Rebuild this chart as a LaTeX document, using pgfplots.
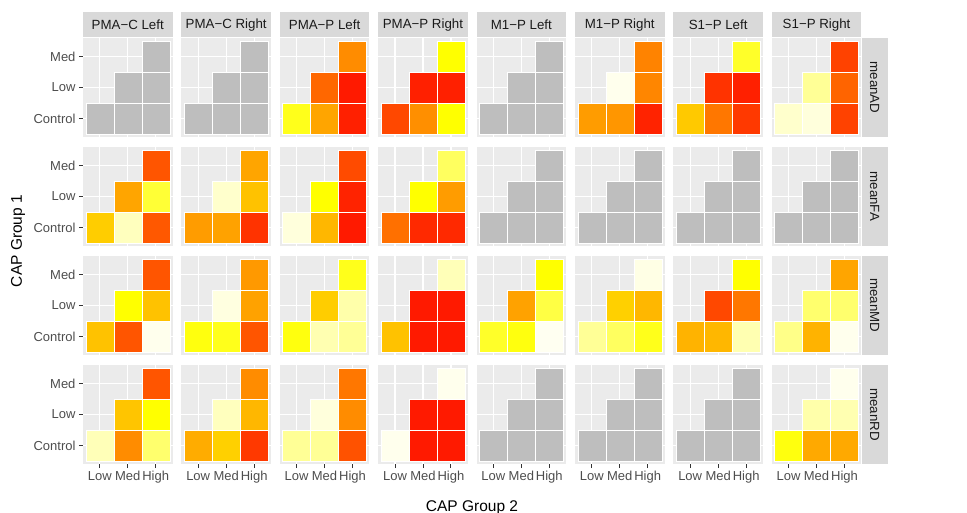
\documentclass[border=0pt]{standalone}
\usepackage{fontspec}
\setmainfont{Liberation Sans}
\usepackage{pgfplots}
\pgfplotsset{compat=1.18}

\definecolor{panelbg}{HTML}{EBEBEB}
\definecolor{stripbg}{HTML}{D9D9D9}
\definecolor{nagray}{HTML}{BEBEBE}
\definecolor{tickc}{HTML}{333333}
\definecolor{ticklab}{HTML}{4D4D4D}
\definecolor{striptext}{HTML}{1A1A1A}

\newcommand\tickfont{\fontsize{13}{15}\selectfont}
\newcommand\stripfont{\fontsize{13.3}{15}\selectfont}
\newcommand\titlefont{\fontsize{15.5}{18}\selectfont}

% one tile = one category cell (27.97pt x 30.94pt at this axis size)
\pgfdeclareplotmark{tile}{%
  \pgfpathrectangle{\pgfpoint{-13.98pt}{-15.47pt}}{\pgfpoint{27.97pt}{30.94pt}}%
  \pgfusepathqfillstroke}

\pgfplotsset{
  colormap={heat}{rgb255(0cm)=(255,26,0) rgb255(4.5cm)=(255,165,0)
    rgb255(7cm)=(255,255,0) rgb255(8cm)=(255,255,136)
    rgb255(9cm)=(255,255,204) rgb255(10cm)=(255,255,245)},
  panel/.style 2 args={
    at={(83pt+#1*98.4pt,-38pt-#2*109pt)}, anchor=north west,
    scale only axis, width=89.5pt, height=99pt,
    xmin=0.4, xmax=3.6, ymin=0.4, ymax=3.6,
    xtick={1,2,3}, ytick={1,2,3},
    xticklabels={}, yticklabels={},
    xtick pos=lower, ytick pos=left,
    xmajorticks=false, ymajorticks=false,
    tick align=outside, major tick length=4pt,
    tick style={draw=tickc, line width=0.9pt},
    axis line style={draw=none},
    axis background/.style={fill=panelbg},
    grid=major, major grid style={white, line width=1.2pt},
    ticklabel style={font=\tickfont, text=ticklab},
    xticklabel style={inner xsep=0.5pt},
    colormap name=heat, point meta min=0, point meta max=1,
    every axis title/.style={fill=stripbg, text=striptext, font=\stripfont,
      minimum width=89.5pt, minimum height=25pt, inner sep=0pt,
      anchor=south, at={(0.5,1)}, yshift=0.5pt},
  },
  left col/.style={ymajorticks=true, yticklabels={Control,Low,Med}},
  bottom row/.style={xmajorticks=true, xticklabels={Low,Med,High}},
  strip top/.style={title={#1}},
  strip right/.style={extra description/.code={
    \node[fill=stripbg, text=striptext, font=\stripfont, rotate=-90,
      anchor=south, minimum width=99pt, minimum height=26pt, inner sep=0pt]
      at (1,0.5) {#1};}},
  heat tiles/.style={scatter, only marks, mark=tile, line width=0.4pt,
    point meta=explicit, scatter/use mapped color={draw=white, fill=mapped color}},
  na tiles/.style={only marks, mark=tile, line width=0.4pt,
    mark options={draw=white, fill=nagray}},
}

% #1 column, #2 row, #3 extra options, #4 table x y v
\newcommand{\heatpanel}[4]{%
  \begin{axis}[panel={#1}{#2},#3]
    \addplot[heat tiles] table[row sep=\\, meta=v] {#4};
  \end{axis}}
% panel with no values: all six cells grey
\newcommand{\napanel}[3]{%
  \begin{axis}[panel={#1}{#2},#3]
    \addplot[na tiles] table[row sep=\\] {x y\\ 1 1\\ 2 1\\ 3 1\\ 2 2\\ 3 2\\ 3 3\\};
  \end{axis}}

\begin{document}
\begin{tikzpicture}
\useasboundingbox (0,0) rectangle (967pt,-513pt);

% meanAD
\napanel{0}{0}{left col, strip top={PMA−C Left}}
\napanel{1}{0}{strip top={PMA−C Right}}
\heatpanel{2}{0}{strip top={PMA−P Left}}{x y v\\ 1 1 .72\\ 2 1 .45\\ 3 1 .02\\ 2 2 .25\\ 3 2 0\\ 3 3 .37\\}
\heatpanel{3}{0}{strip top={PMA−P Right}}{x y v\\ 1 1 .15\\ 2 1 .38\\ 3 1 .70\\ 2 2 .02\\ 3 2 .02\\ 3 3 .70\\}
\napanel{4}{0}{strip top={M1−P Left}}
\heatpanel{5}{0}{strip top={M1−P Right}}{x y v\\ 1 1 .42\\ 2 1 .40\\ 3 1 .03\\ 2 2 .98\\ 3 2 .35\\ 3 3 .34\\}
\heatpanel{6}{0}{strip top={S1−P Left}}{x y v\\ 1 1 .55\\ 2 1 .30\\ 3 1 .10\\ 2 2 .08\\ 3 2 .02\\ 3 3 .73\\}
\heatpanel{7}{0}{strip top={S1−P Right}, strip right=meanAD}{x y v\\ 1 1 .90\\ 2 1 .94\\ 3 1 .13\\ 2 2 .82\\ 3 2 .24\\ 3 3 .13\\}

% meanFA
\heatpanel{0}{1}{left col}{x y v\\ 1 1 .56\\ 2 1 .88\\ 3 1 .20\\ 2 2 .45\\ 3 2 .74\\ 3 3 .19\\}
\heatpanel{1}{1}{}{x y v\\ 1 1 .42\\ 2 1 .44\\ 3 1 .08\\ 2 2 .90\\ 3 2 .53\\ 3 3 .45\\}
\heatpanel{2}{1}{}{x y v\\ 1 1 .94\\ 2 1 .50\\ 3 1 0\\ 2 2 .70\\ 3 2 .03\\ 3 3 .16\\}
\heatpanel{3}{1}{}{x y v\\ 1 1 .28\\ 2 1 .05\\ 3 1 .05\\ 2 2 .70\\ 3 2 .42\\ 3 3 .77\\}
\napanel{4}{1}{}
\napanel{5}{1}{}
\napanel{6}{1}{}
\napanel{7}{1}{strip right=meanFA}

% meanMD
\heatpanel{0}{2}{left col}{x y v\\ 1 1 .53\\ 2 1 .19\\ 3 1 .98\\ 2 2 .70\\ 3 2 .53\\ 3 3 .19\\}
\heatpanel{1}{2}{}{x y v\\ 1 1 .71\\ 2 1 .72\\ 3 1 .19\\ 2 2 .95\\ 3 2 .44\\ 3 3 .41\\}
\heatpanel{2}{2}{}{x y v\\ 1 1 .71\\ 2 1 .86\\ 3 1 .82\\ 2 2 .56\\ 3 2 .85\\ 3 3 .72\\}
\heatpanel{3}{2}{}{x y v\\ 1 1 .53\\ 2 1 0\\ 3 1 0\\ 2 2 0\\ 3 2 0\\ 3 3 .87\\}
\heatpanel{4}{2}{}{x y v\\ 1 1 .73\\ 2 1 .71\\ 3 1 .99\\ 2 2 .44\\ 3 2 .75\\ 3 3 .70\\}
\heatpanel{5}{2}{}{x y v\\ 1 1 .82\\ 2 1 .77\\ 3 1 .72\\ 2 2 .57\\ 3 2 .50\\ 3 3 .96\\}
\heatpanel{6}{2}{}{x y v\\ 1 1 .49\\ 2 1 .50\\ 3 1 .86\\ 2 2 .15\\ 3 2 .30\\ 3 3 .70\\}
\heatpanel{7}{2}{strip right=meanMD}{x y v\\ 1 1 .80\\ 2 1 .49\\ 3 1 .98\\ 2 2 .78\\ 3 2 .78\\ 3 3 .45\\}

% meanRD
\heatpanel{0}{3}{left col, bottom row}{x y v\\ 1 1 .87\\ 2 1 .37\\ 3 1 .78\\ 2 2 .54\\ 3 2 .70\\ 3 3 .19\\}
\heatpanel{1}{3}{bottom row}{x y v\\ 1 1 .47\\ 2 1 .57\\ 3 1 .10\\ 2 2 .88\\ 3 2 .50\\ 3 3 .37\\}
\heatpanel{2}{3}{bottom row}{x y v\\ 1 1 .82\\ 2 1 .82\\ 3 1 .18\\ 2 2 .94\\ 3 2 .37\\ 3 3 .30\\}
\heatpanel{3}{3}{bottom row}{x y v\\ 1 1 .98\\ 2 1 0\\ 3 1 0\\ 2 2 0\\ 3 2 0\\ 3 3 .98\\}
\napanel{4}{3}{bottom row}
\napanel{5}{3}{bottom row}
\napanel{6}{3}{bottom row}
\heatpanel{7}{3}{bottom row, strip right=meanRD}{x y v\\ 1 1 .71\\ 2 1 .46\\ 3 1 .46\\ 2 2 .85\\ 3 2 .86\\ 3 3 .98\\}

\node[font=\titlefont, anchor=base] at (472pt,-511pt) {CAP Group 2};
\node[font=\titlefont, rotate=90] at (18pt,-241pt) {CAP Group 1};
\end{tikzpicture}
\end{document}
